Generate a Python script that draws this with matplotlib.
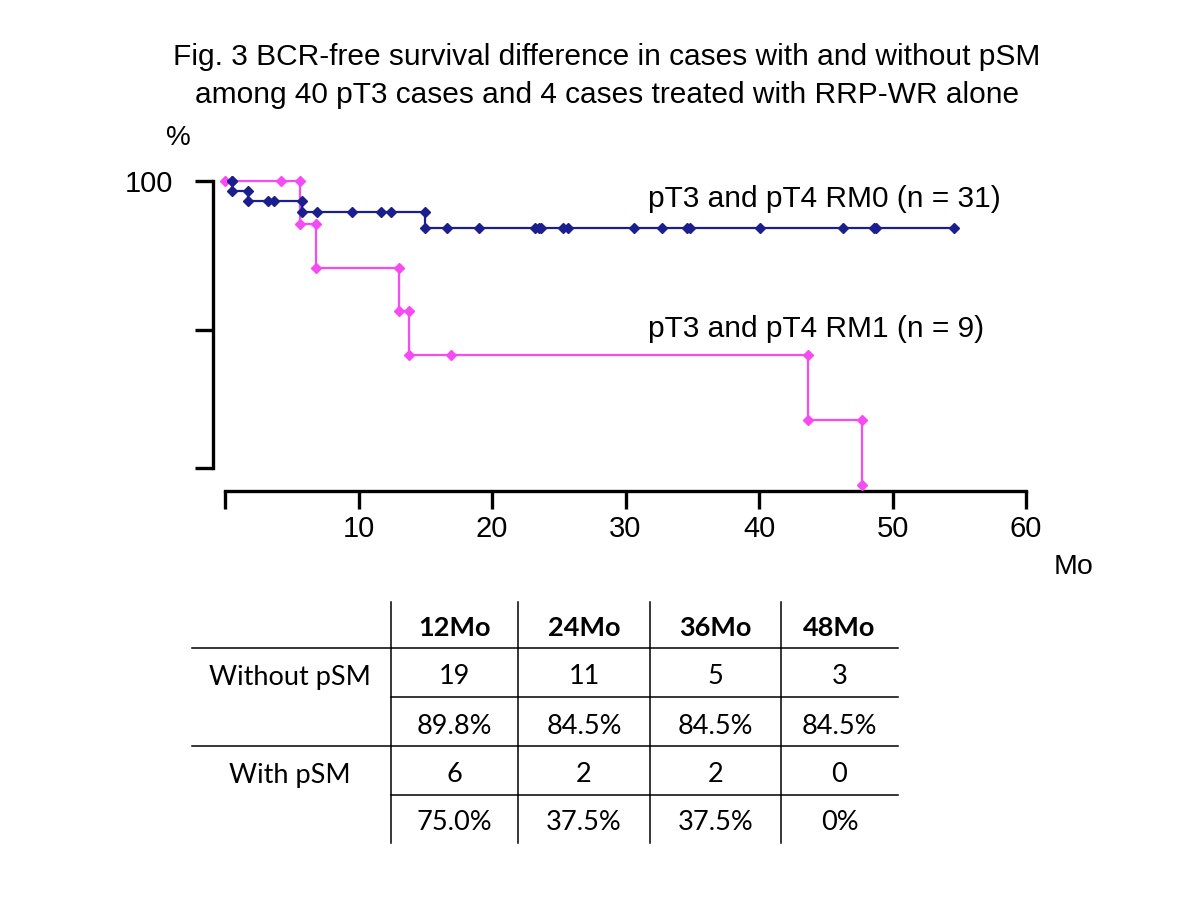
import matplotlib
matplotlib.use("Agg")
import matplotlib.pyplot as plt
from matplotlib.lines import Line2D
from matplotlib import transforms

# ---------------- data ----------------
rm0_label = "pT3 and pT4 RM0 (n = 31)"
rm0_start = 0.5
rm0_time = [0.5, 1.7, 3.2, 3.7, 5.8, 6.9, 9.5, 11.7, 12.4, 15.0, 16.6, 19.0,
            23.2, 23.5, 23.7, 25.3, 25.7, 30.6, 32.7, 34.6, 34.8, 40.1,
            46.3, 48.6, 48.8, 54.6]
rm0_surv = [96.8, 93.5, 93.5, 93.5, 89.8, 89.8, 89.8, 89.8, 89.8, 84.5, 84.5,
            84.5, 84.5, 84.5, 84.5, 84.5, 84.5, 84.5, 84.5, 84.5, 84.5, 84.5,
            84.5, 84.5, 84.5, 84.5]

rm1_label = "pT3 and pT4 RM1 (n = 9)"
rm1_start = 0.0
rm1_time = [4.2, 5.6, 6.8, 13.0, 13.8, 16.9, 43.7, 47.7]
rm1_surv = [100, 85.7, 71.4, 57.1, 42.9, 42.9, 21.4, 0]

x_ticks = [0, 10, 20, 30, 40, 50, 60]
x_tick_labels = ["", "10", "20", "30", "40", "50", "60"]
y_ticks = [5.6, 51, 100]
y_tick_labels = ["", "", "100"]

table_cols = ["12Mo", "24Mo", "36Mo", "48Mo"]
table_groups = ["Without pSM", "With pSM"]
without_n = ["19", "11", "5", "3"]
without_pct = ["89.8%", "84.5%", "84.5%", "84.5%"]
with_n = ["6", "2", "2", "0"]
with_pct = ["75.0%", "37.5%", "37.5%", "0%"]

title_lines = ["Fig. 3 BCR-free survival difference in cases with and without pSM",
               "among 40 pT3 cases and 4 cases treated with RRP-WR alone"]

BLUE = "#1b1f8e"
PINK = "#f44cf2"


def km_vertices(start, times, surv):
    xs, ys = [start], [100.0]
    prev = 100.0
    for t, s in zip(times, surv):
        if s < prev:
            xs += [t, t]
            ys += [prev, s]
        else:
            xs.append(t)
            ys.append(s)
        prev = s
    return xs, ys


# ---------------- figure ----------------
W, H = 1200, 900
fig = plt.figure(figsize=(12, 9), dpi=100)
px = transforms.Affine2D().scale(1 / W, -1 / H).translate(0, 1) + fig.transFigure

FONT = "Liberation Sans"
TFONT = "Lato"

# axes: x 0->225px, 60->1026px ; y 100->181px, 0->485px, bottom at 491px
x0, x1 = 225, 1026
ytop, y0px, ybot = 181, 485, 491
ppu = (y0px - ytop) / 100.0
ymin = -(ybot - y0px) / ppu
ax = fig.add_axes([x0 / W, 1 - ybot / H, (x1 - x0) / W, (ybot - ytop) / H])
ax.set_xlim(0, 60)
ax.set_ylim(ymin, 100)
ax.patch.set_visible(False)

xs, ys = km_vertices(rm1_start, rm1_time, rm1_surv)
ax.plot(xs, ys, color=PINK, lw=1.6, marker="D", ms=4.8, mec=PINK, mfc=PINK,
        clip_on=False, zorder=3)
xs, ys = km_vertices(rm0_start, rm0_time, rm0_surv)
ax.plot(xs, ys, color=BLUE, lw=1.6, marker="D", ms=4.8, mec=BLUE, mfc=BLUE,
        clip_on=False, zorder=4)

for s in ["top", "right"]:
    ax.spines[s].set_visible(False)
ax.spines["bottom"].set_linewidth(2.4)
ax.spines["bottom"].set_bounds(0, 60)
ax.spines["left"].set_linewidth(2.4)
ax.spines["left"].set_position(("outward", 12 * 0.72))
ax.spines["left"].set_bounds(y_ticks[0], y_ticks[-1])

ax.set_xticks(x_ticks)
ax.set_xticklabels(x_tick_labels, fontsize=21, family=FONT)
ax.tick_params(axis="x", direction="out", length=13, width=2.4, pad=4)
ax.set_yticks(y_ticks)
ax.set_yticklabels(y_tick_labels, fontsize=21, family=FONT)
ax.tick_params(axis="y", direction="out", length=13, width=2.4, pad=16)

# labels
fig.text(607, 57, title_lines[0], transform=px, ha="center", va="center",
         fontsize=21.5, family=FONT)
fig.text(607, 95, title_lines[1], transform=px, ha="center", va="center",
         fontsize=21.5, family=FONT)
fig.text(178, 138, "%", transform=px, ha="center", va="center",
         fontsize=20, family=FONT)
fig.text(1074, 567, "Mo", transform=px, ha="center", va="center",
         fontsize=20.5, family=FONT)
fig.text(648, 199, rm0_label, transform=px, ha="left", va="center",
         fontsize=21.5, family=FONT)
fig.text(648, 329, rm1_label, transform=px, ha="left", va="center",
         fontsize=21.5, family=FONT)

# ---------------- table ----------------
col_lines = [391, 518, 650, 781]
right_end = 898
left_end = 192
row_centers = [628, 677, 726, 775, 823]
label_cx = 290
col_centers = [(col_lines[i] + (col_lines[i + 1] if i + 1 < len(col_lines) else right_end)) / 2
               for i in range(len(col_lines))]

def hline(y, xa, xb):
    fig.add_artist(Line2D([xa, xb], [y, y], transform=px, color="black", lw=1.1))

def vline(x, ya, yb):
    fig.add_artist(Line2D([x, x], [ya, yb], transform=px, color="black", lw=1.1))

hline(648, left_end, right_end)
hline(697, col_lines[0], right_end)
hline(746, left_end, right_end)
hline(795, col_lines[0], right_end)
for x in col_lines:
    vline(x, 602, 843)

TS = 19.5
for cx, txt in zip(col_centers, table_cols):
    fig.text(cx, row_centers[0], txt, transform=px, ha="center", va="center",
             fontsize=TS, family=TFONT, fontweight="bold")
fig.text(label_cx, row_centers[1], table_groups[0], transform=px, ha="center",
         va="center", fontsize=TS, family=TFONT)
fig.text(label_cx, row_centers[3], table_groups[1], transform=px, ha="center",
         va="center", fontsize=TS, family=TFONT)
for row, vals in zip(row_centers[1:], [without_n, without_pct, with_n, with_pct]):
    for cx, v in zip(col_centers, vals):
        fig.text(cx, row, v, transform=px, ha="center", va="center",
                 fontsize=TS, family=TFONT)

fig.savefig("out.png", dpi=100)
